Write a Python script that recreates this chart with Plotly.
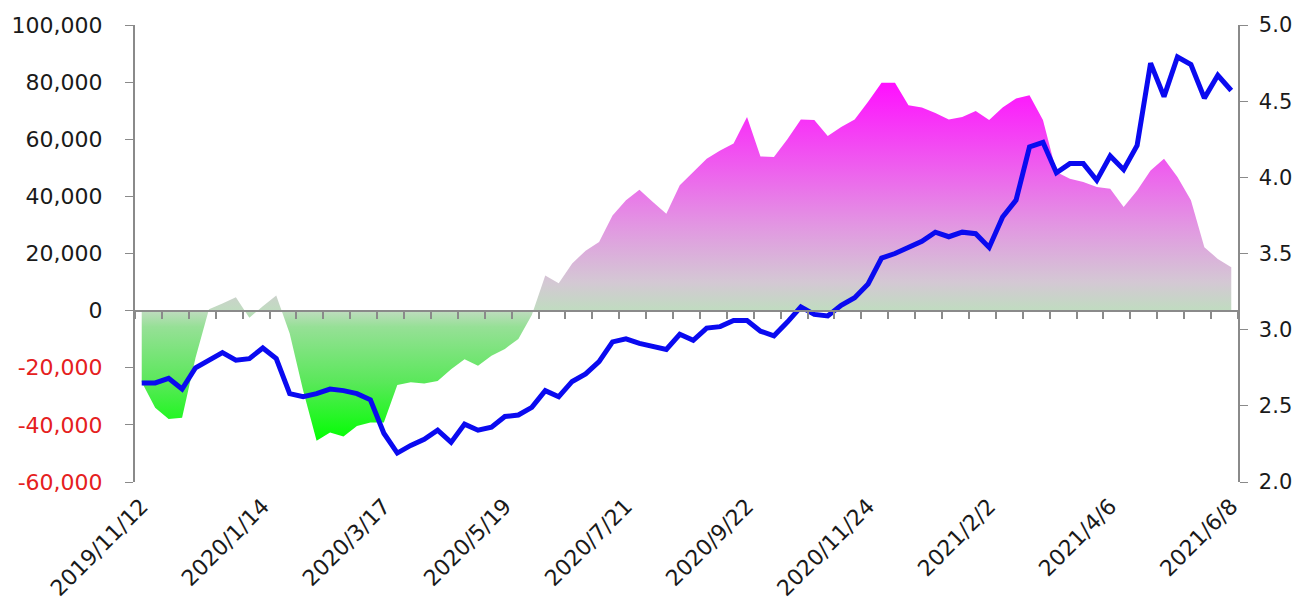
import plotly.graph_objects as go

dates = [
    "2019/11/12", "2019/11/19", "2019/11/26", "2019/12/3", "2019/12/10", "2019/12/17", "2019/12/24", "2019/12/31",
    "2020/1/7", "2020/1/14", "2020/1/21", "2020/1/28", "2020/2/4", "2020/2/11", "2020/2/18", "2020/2/25",
    "2020/3/3", "2020/3/10", "2020/3/17", "2020/3/24", "2020/3/31", "2020/4/7", "2020/4/14", "2020/4/21",
    "2020/4/28", "2020/5/5", "2020/5/12", "2020/5/19", "2020/5/26", "2020/6/2", "2020/6/9", "2020/6/16",
    "2020/6/23", "2020/6/30", "2020/7/7", "2020/7/14", "2020/7/21", "2020/7/28", "2020/8/4", "2020/8/11",
    "2020/8/18", "2020/8/25", "2020/9/1", "2020/9/8", "2020/9/15", "2020/9/22", "2020/9/29", "2020/10/6",
    "2020/10/13", "2020/10/20", "2020/10/27", "2020/11/3", "2020/11/10", "2020/11/17", "2020/11/24", "2020/12/1",
    "2020/12/8", "2020/12/15", "2020/12/22", "2021/1/5", "2021/1/12", "2021/1/19", "2021/1/26", "2021/2/2",
    "2021/2/9", "2021/2/16", "2021/2/23", "2021/3/2", "2021/3/9", "2021/3/16", "2021/3/23", "2021/3/30",
    "2021/4/6", "2021/4/13", "2021/4/20", "2021/4/27", "2021/5/4", "2021/5/11", "2021/5/18", "2021/5/25",
    "2021/6/1", "2021/6/8",
]

net_position = [
    -25000, -34000, -37900, -37500, -16500, 500, 2500, 4700, -2500, 1500,
    5300, -8000, -28000, -45600, -42700, -44100, -40400, -39200, -39200, -26000,
    -25100, -25500, -24600, -20500, -17000, -19300, -15800, -13400, -9900, -1500,
    12300, 9600, 16500, 21000, 24000, 33300, 38600, 42300, 38000, 33900,
    43900, 48500, 53200, 56100, 58500, 67800, 54000, 53800, 60000, 66900,
    66700, 61100, 64300, 66900, 73100, 79800, 79800, 71900, 71100, 69200,
    66900, 67800, 69900, 66700, 71100, 74300, 75400, 66700, 48500, 46200,
    45000, 43300, 42700, 36300, 42100, 49100, 53200, 46800, 38600, 22200,
    18100, 15200,
]

price = [
    2.65, 2.65, 2.68, 2.61, 2.75, 2.80, 2.85, 2.80, 2.81, 2.88,
    2.81, 2.58, 2.56, 2.58, 2.61, 2.60, 2.58, 2.54, 2.32, 2.19,
    2.24, 2.28, 2.34, 2.26, 2.38, 2.34, 2.36, 2.43, 2.44, 2.49,
    2.60, 2.56, 2.66, 2.71, 2.79, 2.92, 2.94, 2.91, 2.89, 2.87,
    2.97, 2.93, 3.01, 3.02, 3.06, 3.06, 2.99, 2.96, 3.05, 3.15,
    3.10, 3.09, 3.16, 3.21, 3.30, 3.47, 3.50, 3.54, 3.58, 3.64,
    3.61, 3.64, 3.63, 3.54, 3.74, 3.85, 4.20, 4.23, 4.03, 4.09,
    4.09, 3.98, 4.14, 4.05, 4.21, 4.75, 4.53, 4.79, 4.74, 4.52,
    4.67, 4.57,
]

label_dates = ["2019/11/12", "2020/1/14", "2020/3/17", "2020/5/19", "2020/7/21",
               "2020/9/22", "2020/11/24", "2021/2/2", "2021/4/6", "2021/6/8"]

left_ticks = [-60000, -40000, -20000, 0, 20000, 40000, 60000, 80000, 100000]
right_ticks = [2.0, 2.5, 3.0, 3.5, 4.0, 4.5, 5.0]

FONT = "DejaVu Sans"
AXIS_GRAY = "#8a8a8a"
RED = "#e52020"
TXT = "#1a1a1a"

def left_label(v):
    s = f"{v:,}"
    if v < 0:
        return f"<span style='color:{RED}'>{s}</span>"
    return s

fig = go.Figure()

fig.add_trace(go.Scatter(
    x=dates, y=net_position, mode="none", fill="tozeroy",
    fillgradient=dict(
        type="vertical", start=-46000, stop=80000,
        colorscale=[
            [0.0, "rgb(0,255,0)"],
            [0.167, "rgb(90,232,90)"],
            [0.32, "rgb(150,224,150)"],
            [0.365, "rgb(192,220,192)"],
            [0.444, "rgb(212,200,212)"],
            [0.603, "rgb(226,150,226)"],
            [0.762, "rgb(238,95,238)"],
            [1.0, "rgb(255,15,255)"],
        ],
    ),
    hoverinfo="skip", showlegend=False,
))

fig.add_trace(go.Scatter(
    x=dates, y=[None] * len(dates), xaxis="x2", yaxis="y",
    mode="lines", hoverinfo="skip", showlegend=False,
))

fig.add_trace(go.Scatter(
    x=dates, y=price, yaxis="y2", mode="lines",
    line=dict(color="#0a0af0", width=5),
    showlegend=False,
))

rng = [-0.5, len(dates) - 0.5]

# the page body adds an 8px offset on each side, so the figure is sized to fit inside it
fig.update_layout(
    width=1287, height=599,
    margin=dict(l=127, r=57, t=17, b=125, autoexpand=False),
    paper_bgcolor="white", plot_bgcolor="white",
    font=dict(family=FONT, size=22, color=TXT),
    xaxis=dict(
        type="category", range=rng, showgrid=False, zeroline=False,
        showline=False, ticks="", tickmode="array", tickvals=label_dates,
        ticktext=label_dates, tickangle=-45, ticklabelstandoff=6,
        automargin=False,
        tickfont=dict(family=FONT, size=22, color=TXT),
    ),
    xaxis2=dict(
        type="category", range=rng, overlaying="x", anchor="free",
        position=0.375, side="bottom", showgrid=False, zeroline=False,
        showline=True, linecolor=AXIS_GRAY, linewidth=2,
        ticks="outside", tickson="boundaries", ticklen=7, tickwidth=1.5,
        tickcolor=AXIS_GRAY, showticklabels=False, automargin=False,
    ),
    yaxis=dict(
        range=[-60000, 100000], tickmode="array", tickvals=left_ticks,
        ticktext=[left_label(v) for v in left_ticks],
        showgrid=False, zeroline=False, showline=True, linecolor=AXIS_GRAY,
        linewidth=2, ticks="outside", ticklen=8, tickcolor=AXIS_GRAY,
        ticklabelstandoff=18, automargin=False,
        tickfont=dict(family=FONT, size=22, color=TXT),
    ),
    yaxis2=dict(
        range=[2.0, 5.0], overlaying="y", side="right", tickmode="array",
        tickvals=right_ticks,
        ticktext=["\u00a0" + f"{v:.1f}" for v in right_ticks],
        showgrid=False, zeroline=False, showline=True, linecolor=AXIS_GRAY,
        linewidth=2, ticks="outside", ticklen=8, tickcolor=AXIS_GRAY,
        automargin=False,
        tickfont=dict(family=FONT, size=21, color=TXT),
    ),
)

fig.write_html("out.html")
